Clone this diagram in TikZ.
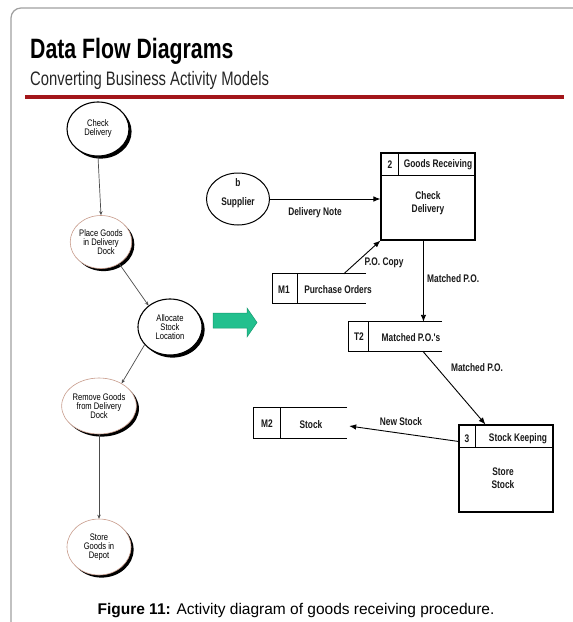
\documentclass[tikz,border=0pt]{standalone}
\usepackage{fontspec}
\setmainfont{Liberation Sans}
\newfontfamily\narrowsans[FakeStretch=0.76]{Liberation Sans}
\newfontfamily\actfont[FakeStretch=0.8]{Liberation Sans}
\newfontfamily\dfdfont[FakeStretch=0.76]{Liberation Sans}
\usetikzlibrary{shapes.geometric,shadows,arrows.meta,calc}
\definecolor{rulered}{HTML}{A3161A}
\definecolor{framegray}{HTML}{A0A0A0}
\definecolor{arrowgreen}{HTML}{22C08E}
\definecolor{arrowgreenline}{HTML}{169A70}
\definecolor{rimbrown}{HTML}{C89C8C}
\tikzset{
  activity/.style={ellipse, draw=black, line width=1.1pt, fill=white, inner sep=0pt,
    minimum width=62pt, minimum height=54pt, align=center,
    font=\actfont\fontsize{9.5}{9}\selectfont,
    drop shadow={shadow xshift=2.6pt, shadow yshift=-2.6pt, fill=black, opacity=1}},
  lightactivity/.style={activity, draw=rimbrown, line width=0.6pt},
  flow/.style={draw=black!70, line width=0.7pt, -{Stealth[length=4pt,width=3.5pt]}},
  dflow/.style={draw=black, line width=0.9pt, -{Latex[length=7pt,width=5.5pt]}},
  dfdtext/.style={font=\dfdfont\bfseries\fontsize{11}{12.5}\selectfont, inner sep=0pt, align=center, text=black!90},
  procbox/.style={draw=black, line width=1.1pt, inner sep=0pt, minimum width=94pt, minimum height=87pt},
  storeline/.style={draw=black, line width=1pt},
  storearea/.style={inner sep=0pt, minimum width=93pt, minimum height=29pt}
}
\begin{document}
\begin{tikzpicture}[x=1pt,y=-1pt]
\useasboundingbox (0,0) rectangle (573,622);
\fill[white] (0,0) rectangle (573,622);

% slide frame and heading
\draw[framegray, line width=1.2pt, rounded corners=10pt] (11,640) -- (11,8) -- (600,8);
\node[anchor=base west, inner sep=0pt, font=\narrowsans\bfseries\fontsize{28}{30}\selectfont] (title) at (30,58) {Data Flow Diagrams};
\node[anchor=base west, inner sep=0pt, font=\narrowsans\fontsize{19.5}{21}\selectfont, text=black!85] (subtitle) at (30,85) {Converting Business Activity Models};
\draw[rulered, line width=3.5pt] (25,97) -- (564,97);

% business activity model
\node[activity] (A1) at (98,129) {Check\\Delivery};
\node[lightactivity, minimum width=58pt, minimum height=53pt] (A2) at (101,242) {Place Goods\\in Delivery\\\hspace*{10pt}Dock};
\node[activity, minimum width=64pt, minimum height=56pt] (A3) at (170,327) {Allocate\\Stock\\Location};
\node[lightactivity, minimum width=64pt, minimum height=56pt] (A4) at (99,406) {Remove Goods\\from Delivery\\Dock};
\node[lightactivity, minimum width=64pt, minimum height=56pt] (A5) at (99,547) {Store\\Goods in\\Depot};

\draw[flow] (A1.south) -- (A2.north);
\draw[flow] (A2.310) -- (A3.135);
\draw[flow] (A3.215) -- (A4.45);
\draw[flow] (A4.south) -- (A5.north);

% conversion arrow
\draw[arrowgreenline, fill=arrowgreen, line width=0.5pt]
  (213,313) -- (247,313) -- (247,308) -- (257,322.5) -- (247,337) -- (247,328) -- (213,328) -- cycle;

% data flow diagram: external entity
\node[ellipse, draw=black, line width=1pt, minimum width=63pt, minimum height=52pt, inner sep=0pt] (S) at (238,199) {};
\node[dfdtext] (Sid) at (238,183) {b};
\node[dfdtext] (Sname) at (238,203) {Supplier};

% process 2
\node[procbox] (P2) at (428,196.5) {};
\draw[line width=1pt] ($(P2.north west)+(0,23)$) -- ($(P2.north east)+(0,23)$);
\draw[line width=1pt] ($(P2.north west)+(18,0)$) -- ($(P2.north west)+(18,23)$);
\node[dfdtext] (P2num) at (390,165) {2};
\node[dfdtext] (P2title) at (438,165) {Goods Receiving};
\node[dfdtext] (P2body) at (428,203) {Check\\Delivery};

% process 3
\node[procbox, minimum height=87pt] (P3) at (506,468.5) {};
\draw[line width=1pt] ($(P3.north west)+(0,23)$) -- ($(P3.north east)+(0,23)$);
\draw[line width=1pt] ($(P3.north west)+(17,0)$) -- ($(P3.north west)+(17,23)$);
\node[dfdtext] (P3num) at (467,439) {3};
\node[dfdtext] (P3title) at (518,439) {Stock Keeping};
\node[dfdtext] (P3body) at (503,478) {Store\\Stock};

% data stores
\node[storearea] (M1) at (319.5,288.5) {};
\draw[storeline] (M1.north east) -- (M1.north west) -- (M1.south west) -- (M1.south east);
\draw[storeline] ($(M1.north west)+(25,0)$) -- ($(M1.south west)+(25,0)$);
\node[dfdtext] (M1id) at (284,290) {M1};
\node[dfdtext] (M1name) at (338,290) {Purchase Orders};

\node[storearea] (T2) at (395.5,336.5) {};
\draw[storeline] (T2.north east) -- (T2.north west) -- (T2.south west) -- (T2.south east);
\draw[storeline] ($(T2.north west)+(20,0)$) -- ($(T2.south west)+(20,0)$);
\node[dfdtext] (T2id) at (359,337) {T2};
\node[dfdtext] (T2name) at (411,338) {Matched P.O.'s};

\node[storearea, minimum height=30pt] (M2) at (300.5,423) {};
\draw[storeline] (M2.north east) -- (M2.north west) -- (M2.south west) -- (M2.south east);
\draw[storeline] ($(M2.north west)+(27,0)$) -- ($(M2.south west)+(27,0)$);
\node[dfdtext] (M2id) at (267,424) {M2};
\node[dfdtext] (M2name) at (311,425) {Stock};

% data flows
\draw[dflow] (S.east) -- (S.east -| P2.west);
\node[dfdtext] (fl1) at (315,213) {Delivery Note};

\coordinate (M1out) at ($(M1.north west)+(71,0)$);
\draw[dflow] (M1out) -- (P2.south west);
\node[dfdtext] (fl2) at (384,263) {P.O. Copy};

\coordinate (P2out) at ($(P2.south west)+(43,0)$);
\draw[dflow] (P2out) -- (P2out |- T2.north);
\node[dfdtext, anchor=west] (fl3) at (427,279) {Matched P.O.};

\coordinate (T2out) at ($(T2.south west)+(74,0)$);
\coordinate (P3in) at ($(P3.north west)+(27,0)$);
\draw[dflow] (T2out) -- (P3in);
\node[dfdtext] (fl4) at (477,368) {Matched P.O.};

\coordinate (P3out) at ($(P3.north west)+(0,17)$);
\draw[dflow] (P3out) -- ($(M2.east)+(2,3)$);
\node[dfdtext] (fl5) at (401,422) {New Stock};

% caption
\node[anchor=base, inner sep=0pt, font=\fontsize{15.5}{17}\selectfont] (cap) at (296,614) {\textbf{Figure 11:} Activity diagram of goods receiving procedure.};
\end{tikzpicture}
\end{document}
